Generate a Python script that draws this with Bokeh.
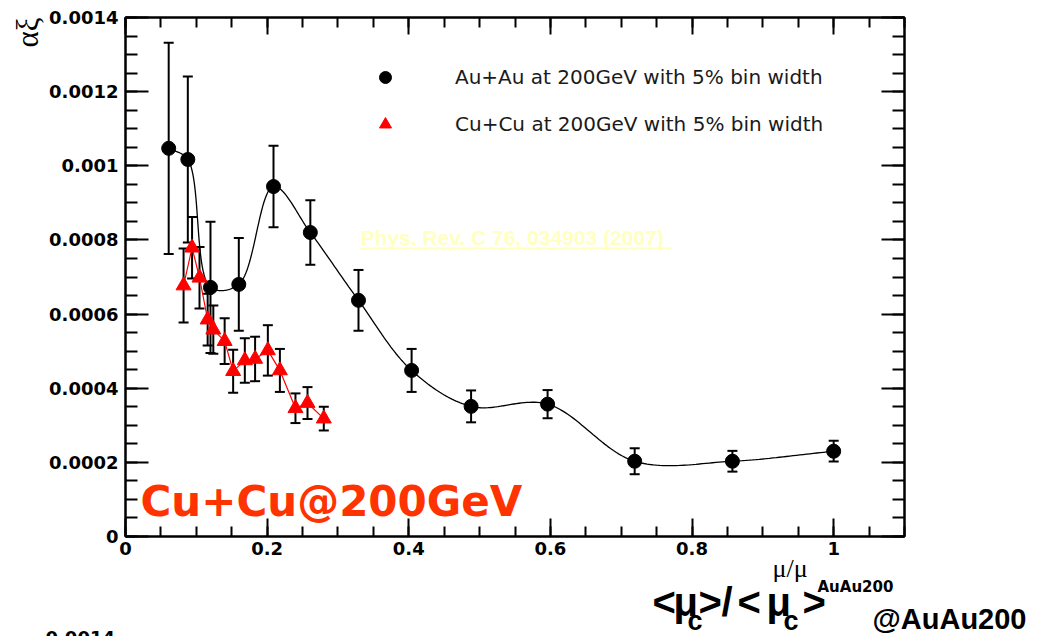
import numpy as np
from bokeh.plotting import figure
from bokeh.core.properties import value
from bokeh.models import (Range1d, FixedTicker, LinearAxis, CustomJSTickFormatter,
                          Whisker, TeeHead, ColumnDataSource, Legend, LegendItem)
from bokeh.embed import file_html
from bokeh.resources import INLINE

# ---- data -------------------------------------------------------------
# Au+Au at 200 GeV (5% centrality bins)
auau_x = [0.061, 0.088, 0.120, 0.160, 0.209, 0.261, 0.329, 0.404, 0.488, 0.596, 0.719, 0.857, 1.000]
auau_y = [0.001047, 0.001017, 0.000672, 0.000680, 0.000944, 0.000820, 0.000637,
          0.000448, 0.000351, 0.000357, 0.000203, 0.000203, 0.000230]
auau_err = [0.000285, 0.000224, 0.000177, 0.000125, 0.000110, 0.000087, 0.000082,
            0.000058, 0.000043, 0.000038, 0.000035, 0.000028, 0.000028]

# Cu+Cu at 200 GeV (5% centrality bins)
cucu_x = [0.082, 0.094, 0.1045, 0.116, 0.124, 0.140, 0.152, 0.1685, 0.183, 0.201, 0.218, 0.240, 0.257, 0.280]
cucu_y = [0.000677, 0.000779, 0.000698, 0.000585, 0.000558, 0.000527, 0.000446,
          0.000475, 0.000479, 0.000502, 0.000448, 0.000346, 0.000360, 0.000318]
cucu_err = [0.000100, 0.000083, 0.000083, 0.000070, 0.000065, 0.000062, 0.000058,
            0.000060, 0.000060, 0.000068, 0.000058, 0.000040, 0.000043, 0.000032]

x_major = [0, 0.2, 0.4, 0.6, 0.8, 1.0]
y_major = [0, 0.0002, 0.0004, 0.0006, 0.0008, 0.0010, 0.0012, 0.0014]

X_MAX, Y_MAX = 1.1, 0.0014

# ---- figure -------------------------------------------------------------
W, H = 1038, 636
FL, FR, FT, FB = 125, 904, 17, 536   # frame edges in canvas pixels

p = figure(width=W, height=H, x_range=Range1d(0, X_MAX), y_range=Range1d(0, Y_MAX),
           output_backend="svg", toolbar_location=None,
           min_border_left=FL, min_border_right=W - FR,
           min_border_top=FT, min_border_bottom=H - FB)
p.xgrid.visible = False
p.ygrid.visible = False
p.outline_line_color = "black"
p.outline_line_width = 2
p.background_fill_color = "white"
p.border_fill_color = "white"


def canvas_to_data(px, py):
    """Convert a canvas pixel position to data coordinates of this frame."""
    return ((px - FL) / (FR - FL) * X_MAX, (FB - py) / (FB - FT) * Y_MAX)


x_ticker = FixedTicker(ticks=x_major, minor_ticks=list(np.round(np.arange(0, 1.1001, 0.05), 3)))
y_ticker = FixedTicker(ticks=y_major, minor_ticks=list(np.round(np.arange(0, 0.00140001, 0.00005), 6)))

x_fmt = CustomJSTickFormatter(code="return tick.toFixed(1).replace(/\\.0$/, '');")
y_fmt = CustomJSTickFormatter(code="if (Math.abs(tick) < 1e-12) return '0'; return tick.toFixed(4).replace(/0+$/, '');")
blank_fmt = CustomJSTickFormatter(code="return '';")


def style_axis(ax, ticker, major_len, minor_len, labels=True):
    ax.ticker = ticker
    ax.axis_line_color = "black"
    ax.axis_line_width = 2
    ax.major_tick_line_color = "black"
    ax.major_tick_line_width = 2
    ax.minor_tick_line_color = "black"
    ax.minor_tick_line_width = 2
    ax.major_tick_in = major_len
    ax.major_tick_out = 0
    ax.minor_tick_in = minor_len
    ax.minor_tick_out = 0
    if labels:
        ax.major_label_text_font = "DejaVu Sans"
        ax.major_label_text_font_style = "bold"
        ax.major_label_text_font_size = "18px"
        ax.major_label_text_color = "black"
    else:
        # mirrored axis: ticks only
        ax.formatter = blank_fmt
        ax.major_label_text_font_size = "1px"
        ax.major_label_standoff = 0


xb = p.xaxis[0]
style_axis(xb, x_ticker, 18, 10)
xb.formatter = x_fmt
xb.major_label_standoff = 5

yl = p.yaxis[0]
style_axis(yl, y_ticker, 23, 12)
yl.formatter = y_fmt
yl.major_label_standoff = 7

xt = LinearAxis()
style_axis(xt, x_ticker, 17, 10, labels=False)
p.add_layout(xt, "above")

yr = LinearAxis()
style_axis(yr, y_ticker, 23, 12, labels=False)
p.add_layout(yr, "right")


# ---- smooth curve through the Au+Au points (centripetal Catmull-Rom) ----
def smooth_curve(xs, ys, n=30):
    sx = (FR - FL) / X_MAX
    sy = (FB - FT) / Y_MAX
    P = np.column_stack([np.asarray(xs) * sx, np.asarray(ys) * sy])
    P = np.vstack([2 * P[0] - P[1], P, 2 * P[-1] - P[-2]])
    pts = []
    for i in range(1, len(P) - 2):
        p0, p1, p2, p3 = P[i - 1], P[i], P[i + 1], P[i + 2]
        t0 = 0.0
        t1 = t0 + np.linalg.norm(p1 - p0) ** 0.5
        t2 = t1 + np.linalg.norm(p2 - p1) ** 0.5
        t3 = t2 + np.linalg.norm(p3 - p2) ** 0.5
        t = np.linspace(t1, t2, n, endpoint=False)[:, None]
        a1 = (t1 - t) / (t1 - t0) * p0 + (t - t0) / (t1 - t0) * p1
        a2 = (t2 - t) / (t2 - t1) * p1 + (t - t1) / (t2 - t1) * p2
        a3 = (t3 - t) / (t3 - t2) * p2 + (t - t2) / (t3 - t2) * p3
        b1 = (t2 - t) / (t2 - t0) * a1 + (t - t0) / (t2 - t0) * a2
        b2 = (t3 - t) / (t3 - t1) * a2 + (t - t1) / (t3 - t1) * a3
        c = (t2 - t) / (t2 - t1) * b1 + (t - t1) / (t2 - t1) * b2
        pts.append(c)
    pts.append(P[-2][None, :])
    pts = np.vstack(pts)
    return pts[:, 0] / sx, pts[:, 1] / sy


cx, cy = smooth_curve(auau_x, auau_y)
p.line(cx, cy, line_color="black", line_width=1.3)
p.line(cucu_x, cucu_y, line_color="red", line_width=1.2)

# ---- error bars -----------------------------------------------------------
for xs, ys, es in ((auau_x, auau_y, auau_err), (cucu_x, cucu_y, cucu_err)):
    src = ColumnDataSource(dict(x=xs,
                                lo=[y - e for y, e in zip(ys, es)],
                                hi=[y + e for y, e in zip(ys, es)]))
    p.add_layout(Whisker(source=src, base="x", lower="lo", upper="hi",
                         line_color="black", line_width=2,
                         upper_head=TeeHead(size=10, line_color="black", line_width=2),
                         lower_head=TeeHead(size=10, line_color="black", line_width=2)))

r_au = p.scatter(auau_x, auau_y, marker="circle", size=14, fill_color="black", line_color="black")
r_cu = p.scatter(cucu_x, cucu_y, marker="triangle", size=15, fill_color="red", line_color="red")

# ---- legend -------------------------------------------------------------
legend = Legend(items=[LegendItem(label="Au+Au at 200GeV with 5% bin width", renderers=[r_au]),
                       LegendItem(label="Cu+Cu at 200GeV with 5% bin width", renderers=[r_cu])],
                location=(245, 397), glyph_width=30, glyph_height=30, label_standoff=55,
                spacing=17, padding=0, margin=0, label_height=30,
                border_line_color=None, background_fill_alpha=0,
                label_text_font="DejaVu Sans", label_text_font_size="20px",
                label_text_color="#1a1a1a")
p.add_layout(legend)


# ---- texts (text glyphs on the overlay level, so they may sit outside the frame) ----
def add_text(text, px, py, size, font="Liberation Sans", style="bold", color="black",
             align="left", baseline="alphabetic", angle=0.0):
    if baseline == "alphabetic":
        # anchor on the middle of the capitals, ~0.36 em above the baseline
        py = py - 0.36 * size
        baseline = "middle"
    x, y = canvas_to_data(px, py)
    p.text(x=[x], y=[y], text=[text], text_font=value(font), text_font_size=value(f"{size}px"),
           text_font_style=value(style), text_color=value(color), text_align=value(align),
           text_baseline=value(baseline), angle=angle, level="overlay")


# reference citation (faint, underlined)
add_text("Phys. Rev. C 76, 034903 (2007)", 360, 245, 21, color="#FFFFC0")
ux0, uy = canvas_to_data(360, 248)
ux1, _ = canvas_to_data(672, 248)
p.segment(x0=[ux0], y0=[uy], x1=[ux1], y1=[uy], line_color="#FFFFC0", line_width=2)

# system tag
add_text("Cu+Cu@200GeV", 140, 516, 42, font="DejaVu Sans", color="#FF3300")

# y-axis title
add_text("\u03b1\u03be", 27, 17, 31, font="Liberation Serif", style="normal",
         align="right", baseline="middle", angle=np.pi / 2)

# x-axis title
add_text("\u03bc/\u03bc", 772, 577, 26, font="Liberation Serif", style="normal")
add_text("AuAu200", 817, 592, 15, font="DejaVu Sans")

# centrality ratio caption
for txt, px, py, size in (("<", 652, 616, 40), ("\u03bc", 673, 616, 40), ("c", 687, 630, 27),
                          (">", 698, 616, 40), ("/", 721, 616, 40), ("<", 737, 616, 40),
                          ("\u03bc", 766, 616, 40), ("c", 783, 630, 27), (">", 802, 616, 40),
                          ("@AuAu200", 872, 629, 29)):
    add_text(txt, px, py, size)

# top of the next panel's axis label
add_text("0.0014", 45, 630, 18, font="DejaVu Sans", baseline="top")

open("out.html", "w").write(file_html(p, INLINE))
